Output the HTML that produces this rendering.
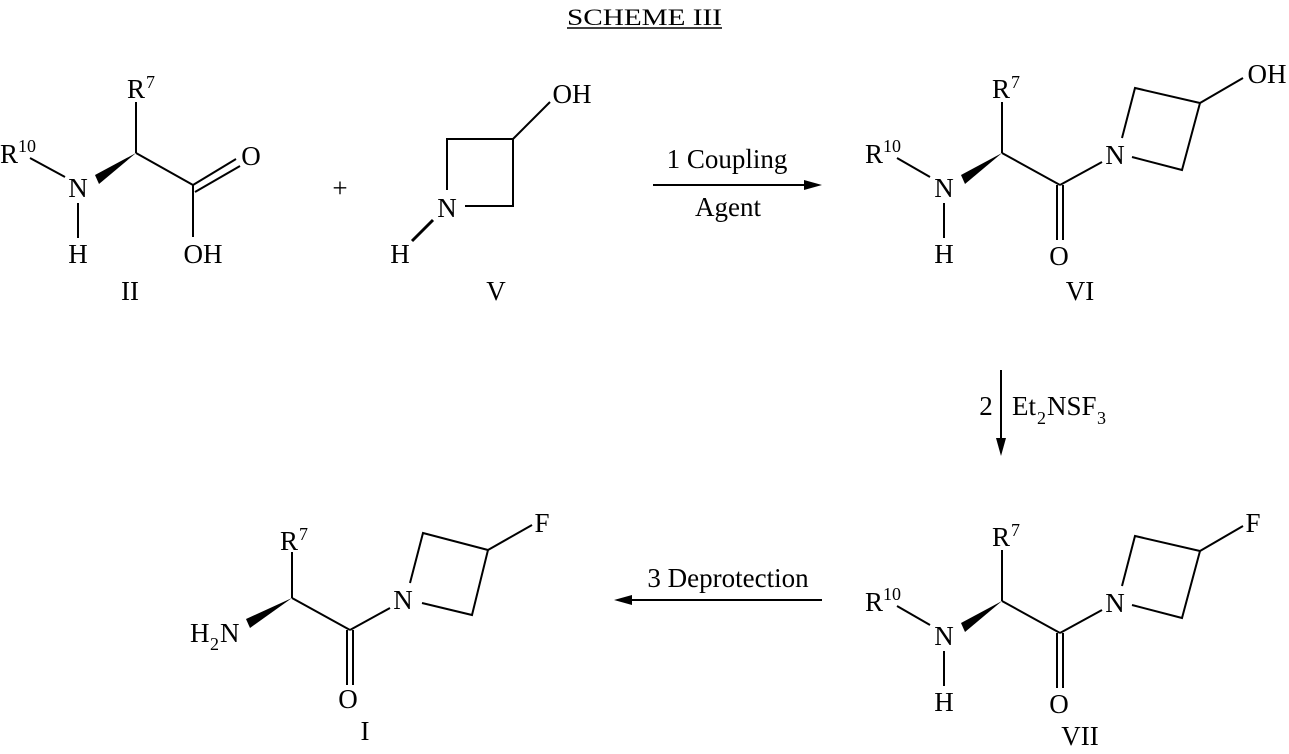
<!DOCTYPE html>
<html><head><meta charset="utf-8"><style>
html,body{margin:0;padding:0;background:#fff;}
svg{display:block;}
text{font-family:"Liberation Serif",serif;font-size:27px;fill:#000;}
.s{font-size:18px;}
line,polyline{stroke:#000;stroke-width:2;fill:none;}
</style></head><body>
<svg width="1289" height="754" viewBox="0 0 1289 754">
<!-- title -->
<text x="567" y="25" textLength="155" lengthAdjust="spacingAndGlyphs" style="font-size:23px">SCHEME III</text>
<line x1="567" y1="28" x2="722" y2="28" style="stroke-width:1.5"/>

<!-- Compound II -->
<text x="127" y="98">R</text><text x="146" y="88" class="s">7</text>
<line x1="136" y1="102" x2="136" y2="153"/>
<polygon points="136,153 95,175 99,184" fill="#000"/>
<text x="0" y="163">R</text><text x="18" y="152" class="s">10</text>
<line x1="30" y1="158" x2="65" y2="177"/>
<text x="78" y="197" text-anchor="middle">N</text>
<line x1="78" y1="203" x2="78" y2="238"/>
<text x="78" y="263" text-anchor="middle">H</text>
<line x1="136" y1="153" x2="193" y2="185"/>
<line x1="193" y1="185" x2="236" y2="159"/>
<line x1="195" y1="192" x2="240" y2="166"/>
<text x="251" y="165" text-anchor="middle">O</text>
<line x1="193" y1="185" x2="193" y2="237"/>
<text x="203" y="263" text-anchor="middle">OH</text>
<text x="130" y="300" text-anchor="middle">II</text>

<!-- plus -->
<text x="340" y="197" text-anchor="middle">+</text>

<!-- Compound V -->
<polyline points="447,190 447,139 513,139 513,206 465,206"/>
<text x="447" y="217" text-anchor="middle">N</text>
<line x1="513" y1="139" x2="550" y2="102"/>
<text x="572" y="103" text-anchor="middle">OH</text>
<line x1="433" y1="220" x2="412" y2="241" style="stroke-width:3"/>
<text x="400" y="263" text-anchor="middle">H</text>
<text x="496" y="300" text-anchor="middle">V</text>

<!-- arrow 1 -->
<line x1="653" y1="185" x2="808" y2="185"/>
<polygon points="822,185 804,180 804,190" fill="#000"/>
<text x="727" y="168" text-anchor="middle">1 Coupling</text>
<text x="728" y="216" text-anchor="middle">Agent</text>

<!-- Compound VI -->
<g>
<text x="992" y="98">R</text><text x="1011" y="88" class="s">7</text>
<line x1="1002" y1="102" x2="1002" y2="153"/>
<polygon points="1002,153 961,175 965,184" fill="#000"/>
<text x="865" y="163">R</text><text x="883" y="152" class="s">10</text>
<line x1="897" y1="158" x2="930" y2="177"/>
<text x="944" y="197" text-anchor="middle">N</text>
<line x1="944" y1="203" x2="944" y2="238"/>
<text x="944" y="263" text-anchor="middle">H</text>
<line x1="1002" y1="153" x2="1060" y2="185"/>
<line x1="1057" y1="185" x2="1057" y2="240"/>
<line x1="1063" y1="185" x2="1063" y2="240"/>
<text x="1059" y="265" text-anchor="middle">O</text>
<line x1="1060" y1="185" x2="1102" y2="162"/>
<text x="1115" y="164" text-anchor="middle">N</text>
<polyline points="1122,138 1135,88 1200,103 1182,170 1132,157"/>
<line x1="1200" y1="103" x2="1243" y2="78"/>
<text x="1267" y="83" text-anchor="middle">OH</text>
<text x="1080" y="300" text-anchor="middle">VI</text>
</g>

<!-- arrow 2 -->
<line x1="1001" y1="370" x2="1001" y2="442"/>
<polygon points="1001,456 996,438 1006,438" fill="#000"/>
<text x="986" y="415" text-anchor="middle">2</text>
<text x="1012" y="415">Et</text><text x="1037" y="424" class="s">2</text><text x="1047" y="415">NSF</text><text x="1097" y="424" class="s">3</text>

<!-- Compound VII -->
<g transform="translate(0,448)">
<text x="992" y="98">R</text><text x="1011" y="88" class="s">7</text>
<line x1="1002" y1="102" x2="1002" y2="153"/>
<polygon points="1002,153 961,175 965,184" fill="#000"/>
<text x="865" y="163">R</text><text x="883" y="152" class="s">10</text>
<line x1="897" y1="158" x2="930" y2="177"/>
<text x="944" y="197" text-anchor="middle">N</text>
<line x1="944" y1="203" x2="944" y2="238"/>
<text x="944" y="263" text-anchor="middle">H</text>
<line x1="1002" y1="153" x2="1060" y2="185"/>
<line x1="1057" y1="185" x2="1057" y2="240"/>
<line x1="1063" y1="185" x2="1063" y2="240"/>
<text x="1059" y="265" text-anchor="middle">O</text>
<line x1="1060" y1="185" x2="1102" y2="162"/>
<text x="1115" y="164" text-anchor="middle">N</text>
<polyline points="1122,138 1135,88 1200,103 1182,170 1132,157"/>
<line x1="1200" y1="103" x2="1243" y2="78"/>
<text x="1253" y="84" text-anchor="middle">F</text>
<text x="1080" y="297" text-anchor="middle">VII</text>
</g>

<!-- arrow 3 -->
<line x1="628" y1="600" x2="822" y2="600"/>
<polygon points="614,600 632,595 632,605" fill="#000"/>
<text x="728" y="587" text-anchor="middle">3 Deprotection</text>

<!-- Compound I -->
<text x="280" y="550">R</text><text x="299" y="540" class="s">7</text>
<line x1="292" y1="552" x2="292" y2="598"/>
<polygon points="292,598 246,619 250,628" fill="#000"/>
<text x="190" y="642">H</text><text x="210" y="650" class="s">2</text><text x="220" y="642">N</text>
<line x1="292" y1="598" x2="350" y2="630"/>
<line x1="347" y1="630" x2="347" y2="685"/>
<line x1="353" y1="630" x2="353" y2="685"/>
<text x="348" y="708" text-anchor="middle">O</text>
<line x1="350" y1="630" x2="390" y2="608"/>
<text x="403" y="609" text-anchor="middle">N</text>
<polyline points="410,583 423,533 488,550 472,615 422,603"/>
<line x1="488" y1="550" x2="532" y2="525"/>
<text x="542" y="532" text-anchor="middle">F</text>
<text x="365" y="740" text-anchor="middle">I</text>
</svg>
</body></html>
